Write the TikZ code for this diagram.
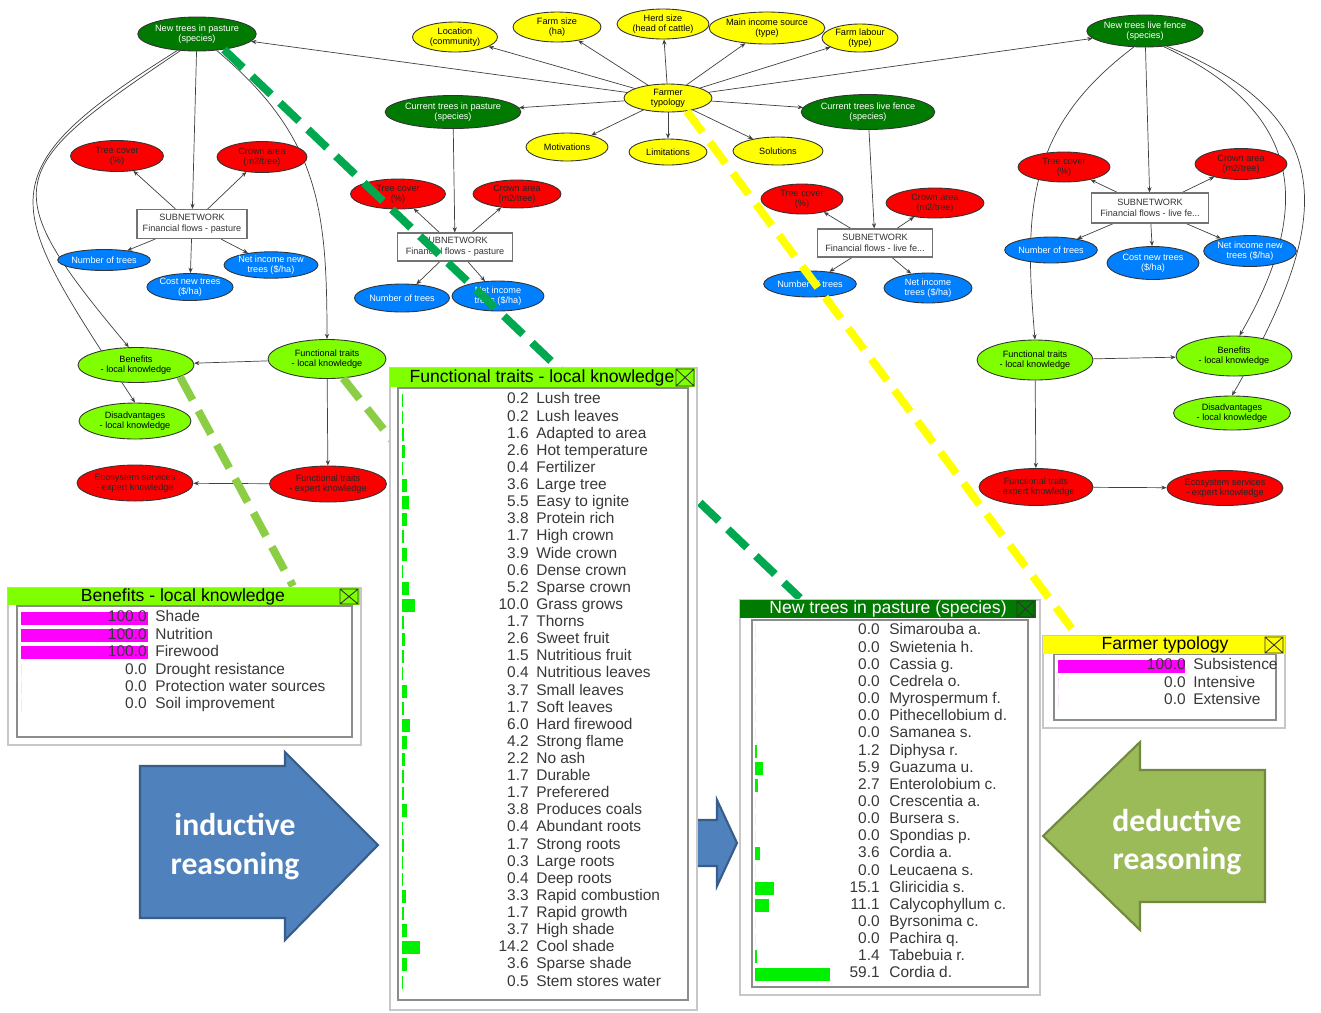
\documentclass[tikz,border=0pt]{standalone}
\usepackage{fontspec}
\setmainfont{Liberation Sans}
\newfontfamily\arrowfont{Carlito}
\usetikzlibrary{shapes.geometric,arrows.meta,backgrounds}

\definecolor{netgreen}{RGB}{0,122,0}
\definecolor{netred}{RGB}{250,0,0}
\definecolor{netblue}{RGB}{0,128,255}
\definecolor{netyellow}{RGB}{255,255,0}
\definecolor{netlime}{RGB}{128,255,0}
\definecolor{barmag}{RGB}{255,0,255}
\definecolor{bargreen}{RGB}{0,240,0}
\definecolor{dashdark}{RGB}{0,168,80}
\definecolor{dashlight}{RGB}{140,205,70}
\definecolor{indblue}{RGB}{79,129,189}
\definecolor{indborder}{RGB}{56,93,138}
\definecolor{dedgreen}{RGB}{155,187,89}
\definecolor{dedborder}{RGB}{113,137,63}

\tikzset{
  bnode/.style={ellipse, draw=black!80, line width=0.5pt, inner sep=0pt, align=center,
    font=\fontsize{5.2}{5.8}\selectfont},
  dkgreen/.style={bnode, fill=netgreen, text=white},
  rednode/.style={bnode, fill=netred, text=black!85},
  bluenode/.style={bnode, fill=netblue, text=white},
  yelnode/.style={bnode, fill=netyellow, text=black},
  limenode/.style={bnode, fill=netlime, text=black},
  subnet/.style={rectangle, draw=black!55, line width=0.6pt, fill=white, inner sep=0pt,
    align=center, font=\fontsize{5.2}{6}\selectfont, text=black!80},
  link/.style={draw=black!75, line width=0.4pt, -{Stealth[length=3pt,width=2.4pt]}},
  dashdk/.style={draw=dashdark, line width=4.5pt, dash pattern=on 15pt off 7pt},
  dashlt/.style={draw=dashlight, line width=4.5pt, dash pattern=on 15pt off 7pt},
  dashyel/.style={draw=netyellow, line width=4.5pt, dash pattern=on 15pt off 7pt},
  ttl/.style={font=\fontsize{10}{11}\selectfont, inner sep=0pt},
  rowtxt/.style={font=\fontsize{8.8}{9.5}\selectfont, text=black!78, inner sep=0pt,
    text height=6.3pt, text depth=1.8pt},
  closebox/.style={draw=black!80, line width=0.5pt},
  panelframe/.style={draw=black!22, fill=white, line width=0.6pt},
  panelbox/.style={draw=black!45, line width=0.8pt},
  arrtxt/.style={font=\arrowfont\bfseries\fontsize{18}{20}\selectfont, text=white, inner sep=0pt}
}

\begin{document}
\begin{tikzpicture}[x=0.02cm, y=-0.02cm]
		\useasboundingbox (0,0) rectangle (1321,1012);
		
		%%%%% NETWORK LEFT %%%%%
		\node[dkgreen, minimum width=2.14cm, minimum height=0.68cm] (ntp) at (197,34) {New trees in pasture\\(species)};
		\node[rednode, minimum width=1.86cm, minimum height=0.62cm] (tc1) at (117,156) {Tree cover\\(\%)};
		\node[rednode, minimum width=1.8cm, minimum height=0.62cm] (ca1) at (262,157) {Crown area\\(m2/tree)};
		\node[subnet, minimum width=2.2cm, minimum height=0.58cm] (sub1) at (192,224) {SUBNETWORK\\Financial flows - pasture};
		\node[bluenode, minimum width=1.64cm, minimum height=0.42cm] (nt1) at (104,260) {Number of trees};
		\node[bluenode, minimum width=1.72cm, minimum height=0.54cm] (cost1) at (190,287) {Cost new trees\\(\$/ha)};
		\node[bluenode, minimum width=1.88cm, minimum height=0.52cm] (ni1) at (271,265) {Net income new\\trees (\$/ha)};
		\node[limenode, minimum width=2.32cm, minimum height=0.7cm] (ben1) at (136,365) {Benefits\\- local knowledge};
		\node[limenode, minimum width=2.36cm, minimum height=0.78cm] (ftl1) at (327,359) {Functional traits\\- local knowledge};
		\node[limenode, minimum width=2.24cm, minimum height=0.72cm] (dis1) at (135,421) {Disadvantages\\- local knowledge};
		\node[rednode, minimum width=2.32cm, minimum height=0.72cm] (es1) at (135,483) {Ecosystem services\\- expert knowledge};
		\node[rednode, minimum width=2.34cm, minimum height=0.72cm] (fte1) at (328,484) {Functional traits\\- expert knowledge};
		
		%%%%% NETWORK MIDDLE %%%%%
		\node[yelnode, minimum width=1.76cm, minimum height=0.56cm] (farm) at (668,98) {Farmer\\typology};
		\node[yelnode, minimum width=1.7cm, minimum height=0.6cm] (loc) at (455,37) {Location\\(community)};
		\node[yelnode, minimum width=1.76cm, minimum height=0.6cm] (fsize) at (557,27) {Farm size\\(ha)};
		\node[yelnode, minimum width=1.84cm, minimum height=0.6cm] (herd) at (663,24) {Herd size\\(head of cattle)};
		\node[yelnode, minimum width=1.8cm, minimum height=0.64cm] (income) at (767,28) {Main income source\\(type)};
		\node[yelnode, minimum width=1.52cm, minimum height=0.56cm] (labour) at (860,38) {Farm labour\\(type)};
		\node[yelnode, minimum width=1.64cm, minimum height=0.56cm] (motiv) at (567,147) {Motivations};
		\node[yelnode, minimum width=1.56cm, minimum height=0.52cm] (limit) at (668,152) {Limitations};
		\node[yelnode, minimum width=1.8cm, minimum height=0.56cm] (solut) at (778,151) {Solutions};
		
		\node[dkgreen, minimum width=2.2cm, minimum height=0.66cm] (ctp) at (453,112) {Current trees in pasture\\(species)};
		\node[rednode, minimum width=1.9cm, minimum height=0.6cm] (tc2) at (398,194) {Tree cover\\(\%)};
		\node[rednode, minimum width=1.76cm, minimum height=0.56cm] (ca2) at (517,194) {Crown area\\(m2/tree)};
		\node[subnet, minimum width=2.3cm, minimum height=0.56cm] (sub2) at (455,247) {SUBNETWORK\\Financial flows - pasture};
		\node[bluenode, minimum width=1.9cm, minimum height=0.56cm] (nt2) at (402,298) {Number of trees};
		\node[bluenode, minimum width=1.84cm, minimum height=0.6cm] (ni2) at (498,296) {Net income\\trees (\$/ha)};
		
		\node[dkgreen, minimum width=2.3cm, minimum height=0.7cm] (ctlf) at (868,112) {Current trees live fence\\(species)};
		\node[rednode, minimum width=1.64cm, minimum height=0.6cm] (tc3) at (802,199) {Tree cover\\(\%)};
		\node[rednode, minimum width=1.96cm, minimum height=0.6cm] (ca3) at (935,203) {Crown area\\(m2/tree)};
		\node[subnet, minimum width=2.3cm, minimum height=0.56cm] (sub3) at (875,243) {SUBNETWORK\\Financial flows - live fe...};
		\node[bluenode, minimum width=1.8cm, minimum height=0.52cm] (nt3) at (810,284) {Number of trees};
		\node[bluenode, minimum width=1.76cm, minimum height=0.6cm] (ni3) at (928,288) {Net income\\trees (\$/ha)};
		
		%%%%% NETWORK RIGHT %%%%%
		\node[dkgreen, minimum width=2.26cm, minimum height=0.64cm] (ntlf) at (1145,31) {New trees live fence\\(species)};
		\node[rednode, minimum width=1.84cm, minimum height=0.6cm] (tc4) at (1064,167) {Tree cover\\(\%)};
		\node[rednode, minimum width=1.84cm, minimum height=0.62cm] (ca4) at (1241,164) {Crown area\\(m2/tree)};
		\node[subnet, minimum width=2.34cm, minimum height=0.6cm] (sub4) at (1150,208) {SUBNETWORK\\Financial flows - live fe...};
		\node[bluenode, minimum width=1.84cm, minimum height=0.52cm] (nt4) at (1051,250) {Number of trees};
		\node[bluenode, minimum width=1.84cm, minimum height=0.66cm] (cost4) at (1153,263) {Cost new trees\\(\$/ha)};
		\node[bluenode, minimum width=1.78cm, minimum height=0.62cm] (ni4) at (1250,251) {Net income new\\trees (\$/ha)};
		\node[limenode, minimum width=2.32cm, minimum height=0.8cm] (ftl2) at (1035,360) {Functional traits\\- local knowledge};
		\node[limenode, minimum width=2.32cm, minimum height=0.8cm] (ben2) at (1234,356) {Benefits\\- local knowledge};
		\node[limenode, minimum width=2.34cm, minimum height=0.68cm] (dis2) at (1232,413) {Disadvantages\\- local knowledge};
		\node[rednode, minimum width=2.28cm, minimum height=0.74cm] (fte2) at (1036,487) {Functional traits\\- expert knowledge};
		\node[rednode, minimum width=2.32cm, minimum height=0.7cm] (es2) at (1225,488) {Ecosystem services\\- expert knowledge};
		
		\begin{pgfonlayer}{background}
		\draw[link] (ntp) -- (sub1);
		\draw[link] (sub1) -- (tc1);
		\draw[link] (sub1) -- (ca1);
		\draw[link] (sub1) -- (nt1);
		\draw[link] (sub1) -- (cost1);
		\draw[link] (sub1) -- (ni1);
		\draw[link] (ntp.225) to[out=214, in=130, looseness=1.8] (ben1.112);
		\draw[link] (ntp.220) to[out=212, in=123, looseness=1.7] (dis1.north);
		\draw[link] (ntp.-40) to[out=-40, in=90, looseness=1.1] (ftl1.north);
		\draw[link] (ftl1) -- (ben1);
		\draw[link] (ftl1) -- (fte1);
		\draw[link] (fte1) -- (es1);
		
		\foreach \t in {loc,fsize,herd,income,labour,motiv,limit,solut,ctp,ctlf,ntp,ntlf}
			\draw[link] (farm) -- (\t);
		
		\draw[link] (ctp) -- (sub2);
		\draw[link] (sub2) -- (tc2);
		\draw[link] (sub2) -- (ca2);
		\draw[link] (sub2) -- (nt2);
		\draw[link] (sub2) -- (ni2);
		\draw[link] (ctlf) -- (sub3);
		\draw[link] (sub3) -- (tc3);
		\draw[link] (sub3) -- (ca3);
		\draw[link] (sub3) -- (nt3);
		\draw[link] (sub3) -- (ni3);
		
		\draw[link] (ntlf) -- (sub4);
		\draw[link] (sub4) -- (tc4);
		\draw[link] (sub4) -- (ca4);
		\draw[link] (sub4) -- (nt4);
		\draw[link] (sub4) -- (cost4);
		\draw[link] (sub4) -- (ni4);
		\draw[link] (ntlf.235) to[out=217, in=95, looseness=1.1] (ftl2.north);
		\draw[link] (ntlf.-40) to[out=-25, in=60, looseness=1.3] (ben2.75);
		\draw[link] (ntlf.-35) to[out=-22, in=60, looseness=1.4] (dis2.north);
		\draw[link] (ftl2) -- (ben2);
		\draw[link] (ftl2) -- (fte2);
		\draw[link] (fte2) -- (es2);
		\end{pgfonlayer}
		
		%%%%% DASHED LINKS %%%%%
		\coordinate (ntpbar-in) at (800,598);
		\coordinate (farmbar-in) at (1078,637);
		\coordinate (benbar-in) at (293,586);
		\coordinate (ftbar-in) at (392,440);
		\draw[dashdk] (ntp.-30) -- (ntpbar-in);
		\draw[dashyel] (farm.-35) -- (farmbar-in);
		\draw[dashlt] (ben1.-15) -- (benbar-in);
		\draw[dashlt] (ftl1.-50) -- (ftbar-in);
		
		%%%%% BLOCK ARROWS %%%%%
		\draw[fill=indblue, draw=indborder, line width=1.2pt] (140,766) -- (285,766) -- (285,752) -- (378,845) -- (285,940) -- (285,918) -- (140,918) -- cycle;
		\node[arrtxt] (indtop) at (235,824) {inductive};
		\node[arrtxt] (indbot) at (235,866) {reasoning};
		
		\draw[fill=indblue, draw=indborder, line width=1.2pt] (660,820) -- (717,820) -- (717,800) -- (737,843) -- (717,886) -- (717,866) -- (660,866) -- cycle;
		
		\draw[fill=dedgreen, draw=dedborder, line width=1.2pt] (1043,836) -- (1140,742) -- (1140,770) -- (1265,770) -- (1265,902) -- (1140,902) -- (1140,930) -- cycle;
		\node[arrtxt] (dedtop) at (1177,820) {deductive};
		\node[arrtxt] (dedbot) at (1177,861) {reasoning};
		
		%%%%% PANEL: BENEFITS %%%%%
		\draw[panelframe] (8,588) rectangle (361,745);
		\draw[panelbox] (17,606) rectangle (352,737);
		\fill[netlime] (8,588) rectangle (360,605);
		\node[ttl] (benttl) at (183,597) {Benefits - local knowledge};
		\draw[closebox] (340,589) rectangle (358,604) (340,589) -- (358,604) (340,604) -- (358,589);
		\foreach \v/\t [count=\i] in {100.0/Shade, 100.0/Nutrition, 100.0/Firewood, 0.0/Drought resistance, 0.0/Protection water sources, 0.0/Soil improvement}
		{
			\fill[barmag] (21,{611.5+(\i-1)*17.4}) rectangle ++({\v*1.27},13);
			\node[rowtxt, anchor=east] (benval\i) at (147,{618+(\i-1)*17.4}) {\v};
			\node[rowtxt, anchor=west] (benlab\i) at (155,{618+(\i-1)*17.4}) {\t};
		}
		
		%%%%% PANEL: FUNCTIONAL TRAITS %%%%%
		\draw[panelframe] (390,368) rectangle (697,1010);
		\draw[panelbox] (398,388) rectangle (688,1000);
		\fill[netlime] (390,368) rectangle (695,387);
		\node[ttl] (ftttl) at (542,378) {Functional traits - local knowledge};
		\draw[closebox] (676,369) rectangle (694,386) (676,369) -- (694,386) (676,386) -- (694,369);
		\foreach \v/\t [count=\i] in {0.2/Lush tree, 0.2/Lush leaves, 1.6/Adapted to area, 2.6/Hot temperature, 0.4/Fertilizer, 3.6/Large tree, 5.5/Easy to ignite, 3.8/Protein rich, 1.7/High crown, 3.9/Wide crown, 0.6/Dense crown, 5.2/Sparse crown, 10.0/Grass grows, 1.7/Thorns, 2.6/Sweet fruit, 1.5/Nutritious fruit, 0.4/Nutritious leaves, 3.7/Small leaves, 1.7/Soft leaves, 6.0/Hard firewood, 4.2/Strong flame, 2.2/No ash, 1.7/Durable, 1.7/Preferered, 3.8/Produces coals, 0.4/Abundant roots, 1.7/Strong roots, 0.3/Large roots, 0.4/Deep roots, 3.3/Rapid combustion, 1.7/Rapid growth, 3.7/High shade, 14.2/Cool shade, 3.6/Sparse shade, 0.5/Stem stores water}
		{
			\fill[bargreen] (402,{393.5+(\i-1)*17.12}) rectangle ++({\v*1.27},13);
			\node[rowtxt, anchor=east] (ftval\i) at (529,{400+(\i-1)*17.12}) {\v};
			\node[rowtxt, anchor=west] (ftlab\i) at (536,{400+(\i-1)*17.12}) {\t};
		}
		
		%%%%% PANEL: NEW TREES IN PASTURE %%%%%
		\draw[panelframe] (740,600) rectangle (1040,995);
		\draw[panelbox] (752,620) rectangle (1028,987);
		\fill[netgreen] (740,600) rectangle (1036,618);
		\node[ttl, text=white] (ntpttl) at (888,609) {New trees in pasture (species)};
		\draw[closebox] (1017,601) rectangle (1034,617) (1017,601) -- (1034,617) (1017,617) -- (1034,601);
		\foreach \v/\t [count=\i] in {0.0/Simarouba a., 0.0/Swietenia h., 0.0/Cassia g., 0.0/Cedrela o., 0.0/Myrospermum f., 0.0/Pithecellobium d., 0.0/Samanea s., 1.2/Diphysa r., 5.9/Guazuma u., 2.7/Enterolobium c., 0.0/Crescentia a., 0.0/Bursera s., 0.0/Spondias p., 3.6/Cordia a., 0.0/Leucaena s., 15.1/Gliricidia s., 11.1/Calycophyllum c., 0.0/Byrsonima c., 0.0/Pachira q., 1.4/Tabebuia r., 59.1/Cordia d.}
		{
			\fill[bargreen] (755,{624.5+(\i-1)*17.15}) rectangle ++({\v*1.27},13);
			\node[rowtxt, anchor=east] (ntpval\i) at (880,{631+(\i-1)*17.15}) {\v};
			\node[rowtxt, anchor=west] (ntplab\i) at (889,{631+(\i-1)*17.15}) {\t};
		}
		
		%%%%% PANEL: FARMER TYPOLOGY %%%%%
		\draw[panelframe] (1043,636) rectangle (1285,728);
		\draw[panelbox] (1054,654) rectangle (1276,720);
		\fill[netyellow] (1043,636) rectangle (1285,654);
		\node[ttl] (farmttl) at (1165,645) {Farmer typology};
		\draw[closebox] (1265,637) rectangle (1283,653) (1265,637) -- (1283,653) (1265,653) -- (1283,637);
		\foreach \v/\t [count=\i] in {100.0/Subsistence, 0.0/Intensive, 0.0/Extensive}
		{
			\fill[barmag] (1058,{659.5+(\i-1)*17.5}) rectangle ++({\v*1.27},13);
			\node[rowtxt, anchor=east] (farmval\i) at (1186,{666+(\i-1)*17.5}) {\v};
			\node[rowtxt, anchor=west] (farmlab\i) at (1193,{666+(\i-1)*17.5}) {\t};
		}
		
	\end{tikzpicture}
\end{document}
